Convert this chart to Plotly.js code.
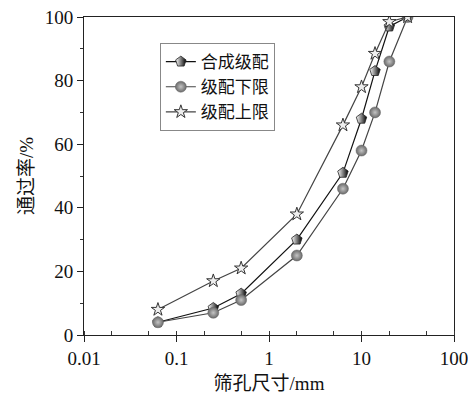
<!DOCTYPE html>
<html>
<head>
<meta charset="utf-8">
<script src="https://cdn.plot.ly/plotly-3.0.1.min.js"></script>
<style>html,body{margin:0;padding:0;background:#fff}#c{width:468px;height:396px}</style>
</head>
<body>
<div id="c"></div>
<script>
const sieveSizes = [0.063, 0.25, 0.5, 2, 6.3, 10, 14, 20, 31.5];
const synthetic = [4, 8.5, 13, 30, 51, 68, 83, 97, 100];
const lowerLimit = [4, 7, 11, 25, 46, 58, 70, 86, 100];
const upperLimit = [8, 17, 21, 38, 66, 78, 88.5, 98.5, 100];
const seriesNames = ['合成级配', '级配下限', '级配上限'];

const serif = 'Liberation Serif, Times New Roman, Noto Sans CJK SC, serif';

const traces = [
  {
    x: sieveSizes, y: synthetic, name: seriesNames[0], mode: 'lines+markers',
    line: {color: '#111', width: 1.2},
    marker: {symbol: 'pentagon', size: 11, color: '#ffffff',
             gradient: {type: 'horizontal', color: '#000000'},
             line: {color: '#222', width: 0.8}}
  },
  {
    x: sieveSizes, y: lowerLimit, name: seriesNames[1], mode: 'lines+markers',
    line: {color: '#444', width: 1.2},
    marker: {symbol: 'circle', size: 11, color: '#6a6a6a',
             gradient: {type: 'radial', color: '#c4c4c4'},
             line: {color: '#666', width: 0.5}}
  },
  {
    x: sieveSizes, y: upperLimit, name: seriesNames[2], mode: 'lines+markers',
    line: {color: '#444', width: 1.2},
    marker: {symbol: 'star', size: 10, color: '#eeeeee',
             line: {color: '#333', width: 1}}
  }
];

const layout = {
  width: 468, height: 396,
  margin: {l: 84, r: 14, t: 17, b: 61},
  paper_bgcolor: '#fff', plot_bgcolor: '#fff',
  font: {family: serif, size: 19, color: '#111'},
  showlegend: true,
  legend: {
    x: 0.205, y: 0.918, xanchor: 'left', yanchor: 'top',
    bgcolor: '#fff', bordercolor: '#888', borderwidth: 1,
    font: {family: serif, size: 17, color: '#111'},
    tracegroupgap: 0, itemwidth: 30
  },
  xaxis: {
    type: 'log', range: [-2, 2],
    dtick: 1,
    ticklabeloverflow: 'allow',
    showline: true, linecolor: '#222', linewidth: 1, mirror: true,
    ticks: 'outside', ticklen: 6, tickwidth: 1, tickcolor: '#222',
    showgrid: false, zeroline: false,
    minor: {ticks: 'inside', ticklen: 4, tickwidth: 1, tickcolor: '#333', dtick: 'D2', showgrid: false},
    title: {text: '筛孔尺寸/mm', font: {family: serif, size: 19, color: '#111'}, standoff: 8},
    tickfont: {family: serif, size: 19, color: '#111'}
  },
  yaxis: {
    range: [0, 100],
    dtick: 20,
    showline: true, linecolor: '#222', linewidth: 1, mirror: true,
    ticks: 'outside', ticklen: 6, tickwidth: 1, tickcolor: '#222',
    showgrid: false, zeroline: false,
    minor: {ticks: 'outside', ticklen: 3, tickwidth: 1, tickcolor: '#333', dtick: 10, showgrid: false},
    title: {text: '通过率/%', font: {family: serif, size: 19, color: '#111'}, standoff: 6},
    tickfont: {family: serif, size: 19, color: '#111'}
  }
};

Plotly.newPlot('c', traces, layout, {staticPlot: true, displayModeBar: false});
</script>
</body>
</html>
